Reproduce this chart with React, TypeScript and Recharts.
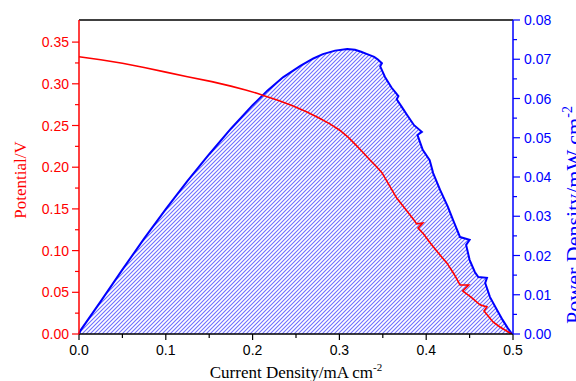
import React from "react";
import { ComposedChart, Area, Line, XAxis, YAxis, ReferenceLine } from "recharts";

// Potential (red) vs current density
const potCurrent = [0.0, 0.025, 0.05, 0.075, 0.1, 0.125, 0.153, 0.175, 0.192, 0.205, 0.215, 0.23, 0.246, 0.262, 0.276, 0.289, 0.3, 0.31, 0.32, 0.327, 0.335, 0.342, 0.349, 0.357, 0.366, 0.376, 0.385, 0.389, 0.396, 0.3906, 0.397, 0.404, 0.414, 0.424, 0.432, 0.439, 0.449, 0.442, 0.452, 0.462, 0.47, 0.4666, 0.477, 0.485, 0.4965, 0.499];
const potValues = [0.3325, 0.3288, 0.3246, 0.3195, 0.314, 0.3085, 0.3026, 0.2972, 0.2926, 0.2886, 0.2852, 0.28, 0.2738, 0.2665, 0.2592, 0.252, 0.2446, 0.236, 0.2255, 0.218, 0.209, 0.2015, 0.1935, 0.179, 0.163, 0.15, 0.138, 0.132, 0.133, 0.127, 0.12, 0.11, 0.097, 0.085, 0.072, 0.0588, 0.0588, 0.0516, 0.044, 0.035, 0.0324, 0.0276, 0.0144, 0.0084, 0.0012, 0.0];

// Power density (blue) vs current density
const powCurrent = [0.0, 0.002, 0.025, 0.05, 0.075, 0.1, 0.125, 0.15, 0.175, 0.2, 0.217, 0.235, 0.255, 0.27, 0.281, 0.295, 0.309, 0.318, 0.325, 0.332, 0.34, 0.344, 0.349, 0.347, 0.3525, 0.36, 0.368, 0.366, 0.372, 0.378, 0.386, 0.395, 0.39, 0.396, 0.404, 0.408, 0.416, 0.425, 0.431, 0.439, 0.45, 0.446, 0.45, 0.456, 0.46, 0.47, 0.468, 0.4735, 0.4816, 0.488, 0.494, 0.499];
const powValues = [0.0, 0.001, 0.0083, 0.0164, 0.0243, 0.0318, 0.039, 0.0458, 0.0523, 0.0583, 0.062, 0.0654, 0.0683, 0.0702, 0.0713, 0.0722, 0.0726, 0.0724, 0.0719, 0.0713, 0.0706, 0.07, 0.069, 0.0682, 0.0655, 0.0628, 0.0606, 0.0598, 0.0578, 0.0558, 0.0532, 0.0515, 0.0507, 0.0469, 0.0443, 0.041, 0.0367, 0.0324, 0.029, 0.0247, 0.024, 0.0227, 0.0189, 0.0158, 0.0145, 0.0143, 0.013, 0.0094, 0.0061, 0.0036, 0.0015, 0.0];

const xTicks = [0, 0.05, 0.1, 0.15, 0.2, 0.25, 0.3, 0.35, 0.4, 0.45, 0.5];
const leftTicks = [0, 0.025, 0.05, 0.075, 0.1, 0.125, 0.15, 0.175, 0.2, 0.225, 0.25, 0.275, 0.3, 0.325, 0.35];
const rightTicks = [0, 0.005, 0.01, 0.015, 0.02, 0.025, 0.03, 0.035, 0.04, 0.045, 0.05, 0.055, 0.06, 0.065, 0.07, 0.075, 0.08];
const LEFT_MAX = 0.3765;
const RIGHT_MAX = 0.08;

const potData = potCurrent.map((c, i) => ({ current: c, potential: potValues[i] }));
const powData = powCurrent.map((c, i) => ({ current: c, power: powValues[i] }));

const TICK_FONT = "'Liberation Sans', Arial, sans-serif";
const LABEL_FONT = "'Liberation Serif', 'Times New Roman', serif";

const LeftTick = (props: any) => {
  const { x, y, payload, index } = props;
  const major = index % 2 === 0;
  return (
    <g>
      <line x1={x - (major ? 7 : 4)} x2={x} y1={y} y2={y} stroke="#ff0000" strokeWidth={1.2} />
      {major && (
        <text x={x - 10} y={y} dy="0.36em" textAnchor="end" fill="#ff0000" fontSize={14} fontFamily={TICK_FONT}>
          {Number(payload.value).toFixed(2)}
        </text>
      )}
    </g>
  );
};

const RightTick = (props: any) => {
  const { x, y, payload, index } = props;
  const major = index % 2 === 0;
  return (
    <g>
      <line x1={x} x2={x + (major ? 7 : 4)} y1={y} y2={y} stroke="#0000ff" strokeWidth={1.2} />
      {major && (
        <text x={x + 11} y={y} dy="0.36em" textAnchor="start" fill="#0000ff" fontSize={14} fontFamily={TICK_FONT}>
          {Number(payload.value).toFixed(2)}
        </text>
      )}
    </g>
  );
};

const BottomTick = (props: any) => {
  const { x, y, payload, index } = props;
  const major = index % 2 === 0;
  return (
    <g>
      <line x1={x} x2={x} y1={y} y2={y + (major ? 6 : 4)} stroke="#000" strokeWidth={1.2} />
      {major && (
        <text x={x} y={y + 21} textAnchor="middle" fill="#000" fontSize={14} fontFamily={TICK_FONT}>
          {Number(payload.value).toFixed(1)}
        </text>
      )}
    </g>
  );
};

const XTitle = (props: any) => {
  const vb = props.viewBox;
  const cx = vb.x + vb.width / 2;
  return (
    <text x={cx} y={378} textAnchor="middle" fill="#000" fontSize={17} fontFamily={LABEL_FONT}>
      <tspan>Current Density/mA cm</tspan>
      <tspan dy={-7} fontSize={11}>-2</tspan>
    </text>
  );
};

const LeftTitle = () => (
  <text x={26} y={180} transform="rotate(-90 26 180)" textAnchor="middle" fill="#ff0000" fontSize={17} fontFamily={LABEL_FONT}>
    Potential/V
  </text>
);

const RightTitle = () => (
  <text x={581} y={215} transform="rotate(-90 581 215)" textAnchor="middle" fill="#0000ff" fontSize={22} fontFamily={LABEL_FONT}>
    <tspan>Power Density/mW cm</tspan>
    <tspan dy={-9} fontSize={14}>-2</tspan>
  </text>
);

export default function App() {
  return (
    <div style={{ position: "absolute", left: 0, top: 0, width: 576, height: 381, background: "#fff" }}>
      <svg width={0} height={0} style={{ position: "absolute" }}>
        <defs>
          <pattern id="hatchBlue" patternUnits="userSpaceOnUse" width={4} height={4}>
            <rect x={0} y={0} width={4} height={4} fill="#ffffff" />
            <path d="M-1,1 L1,-1 M0,4 L4,0 M3,5 L5,3" fill="none" stroke="#6e6eff" strokeWidth={1.1} />
          </pattern>
        </defs>
      </svg>
      <ComposedChart width={576} height={381} margin={{ top: 20, right: 0, bottom: 0, left: 0 }}>
        <XAxis
          dataKey="current"
          type="number"
          domain={[0, 0.5]}
          ticks={xTicks}
          allowDuplicatedCategory={false}
          height={47}
          stroke="#000"
          strokeWidth={1.5}
          tickLine={false}
          tickSize={0}
          tickMargin={0}
          tick={<BottomTick />}
          interval={0}
          label={<XTitle />}
        />
        <YAxis
          yAxisId="left"
          orientation="left"
          type="number"
          domain={[0, LEFT_MAX]}
          ticks={leftTicks}
          width={79}
          stroke="#ff0000"
          strokeWidth={1.5}
          tickLine={false}
          tickSize={0}
          tickMargin={0}
          tick={<LeftTick />}
          interval={0}
          allowDataOverflow
        />
        <YAxis
          yAxisId="right"
          orientation="right"
          type="number"
          domain={[0, RIGHT_MAX]}
          ticks={rightTicks}
          width={63}
          stroke="#0000ff"
          strokeWidth={1.5}
          tickLine={false}
          tickSize={0}
          tickMargin={0}
          tick={<RightTick />}
          interval={0}
          allowDataOverflow
        />
        <ReferenceLine yAxisId="left" y={LEFT_MAX} stroke="#000" strokeWidth={1.5} />
        <Area
          data={powData}
          yAxisId="right"
          dataKey="power"
          type="linear"
          stroke="#0000ff"
          strokeWidth={2}
          fill="url(#hatchBlue)"
          fillOpacity={1}
          isAnimationActive={false}
          dot={false}
          activeDot={false}
        />
        <Line
          data={potData}
          yAxisId="left"
          dataKey="potential"
          type="linear"
          stroke="#ff0000"
          strokeWidth={1.6}
          dot={false}
          activeDot={false}
          isAnimationActive={false}
        />
      </ComposedChart>
      <svg width={576} height={381} style={{ position: "absolute", left: 0, top: 0, pointerEvents: "none" }}>
        <LeftTitle />
        <RightTitle />
      </svg>
    </div>
  );
}
